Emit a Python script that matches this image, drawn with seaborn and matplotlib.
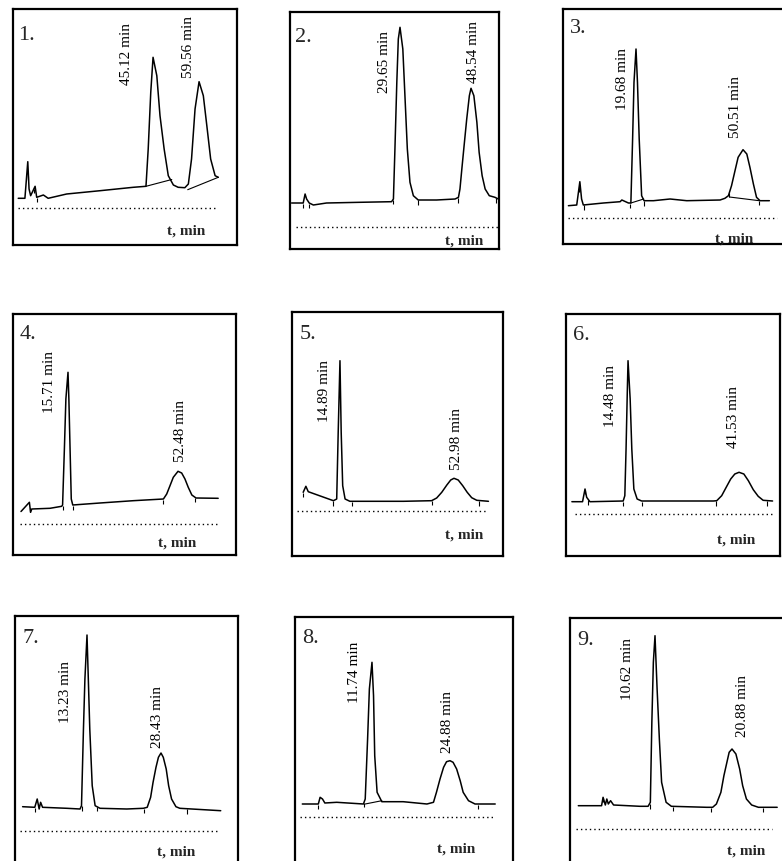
import numpy as np
import pandas as pd
import matplotlib
matplotlib.use("Agg")
import matplotlib.pyplot as plt
import seaborn as sns

# ------------------------------------------------------------------ data
panel_labels = ["1.", "2.", "3.", "4.", "5.", "6.", "7.", "8.", "9."]
axis_label = "t, min"

p1_time = [2.8, 4.9, 5.8, 6.2, 6.7, 8.1, 8.6, 10.7, 12.2, 18.0, 28.5, 38.9, 42.9, 43.6, 44.4,
           45.12, 46.3, 47.3, 48.6, 49.9, 51.5, 53.0, 55.1, 56.2, 57.2, 58.3, 59.56, 60.9,
           62.0, 63.2, 64.6, 65.6]
p1_signal = [9.7, 9.7, 46.3, 19.0, 12.3, 21.7, 10.7, 13.0, 9.7, 14.0, 17.3, 20.7, 21.7, 59.0,
             115.7, 150.7, 132.3, 92.3, 59.0, 32.3, 23.0, 20.7, 20.3, 24.0, 49.0, 99.0, 126.3,
             112.3, 82.3, 49.0, 32.3, 30.7]
p1_peaks = [45.12, 59.56]
p1_marks = [6.0, 7.8, 8.8]
p1_baselines = [(42.9, 21.7, 51.0, 28.5), (56.0, 18.3, 65.6, 30.7)]

p2_time = [0.8, 3.9, 4.4, 4.8, 5.5, 6.6, 10.1, 19.0, 27.4, 27.9, 28.3, 28.8, 29.2, 29.65, 30.4,
           31.0, 31.6, 32.3, 33.2, 34.5, 39.4, 44.3, 45.2, 45.6, 46.1, 46.7, 47.4, 48.1, 48.54,
           49.3, 50.1, 50.7, 51.5, 52.3, 53.4, 54.9, 55.8]
p2_signal = [24, 24, 33, 28, 24, 22, 24, 24.7, 25.3, 28, 78, 144.7, 188, 199.7, 178, 128, 78,
             44.7, 31.3, 27, 27, 28, 29.7, 38, 58, 81.3, 108, 131.3, 138.7,
             131.3, 104.7, 74.7, 51.3, 38, 31.3, 29.7, 28]
p2_peaks = [29.65, 48.54]
p2_marks = [3.9, 5.5, 27.9, 34.4, 45.0, 55.2]
p2_baselines = []

p3_time = [0.2, 2.6, 3.5, 4.0, 4.5, 10.3, 15.1, 15.6, 17.5, 18.2, 18.7, 19.1, 19.68, 20.1, 20.6,
           21.3, 22.0, 24.7, 29.5, 34.3, 43.9, 45.3, 46.3, 47.2, 48.2, 49.1, 50.51, 51.6, 52.5,
           53.5, 54.4, 55.4, 58.1]
p3_signal = [12.3, 13, 36.3, 19, 13, 15, 16.3, 18, 15, 15, 79, 135.7, 169, 135.7, 79, 22.3,
             17.3, 17.3, 19, 17.3, 18, 19.7, 22.3, 32.3, 47.3, 60.7, 68.3, 64, 50.7,
             34, 20.7, 17.3, 17.3]
p3_peaks = [19.68, 50.51]
p3_marks = [3.3, 4.7, 17.9, 22.0, 46.6, 55.2]
p3_baselines = [(18.2, 15.0, 21.9, 19.0), (46.6, 21.0, 55.2, 17.3)]

p4_time = [0.0, 2.8, 3.2, 3.6, 9.7, 13.6, 13.9, 14.5, 15.0, 15.71, 16.0, 16.4, 16.8, 17.3,
           26.4, 37.5, 47.6, 48.7, 49.8, 50.9, 52.48, 53.7, 54.8, 55.9, 57.1, 58.5, 65.9]
p4_signal = [12.5, 21.7, 11.7, 15, 15.7, 17.7, 19, 75, 125, 151.7, 125, 75, 25, 19, 21, 23.3,
             25, 30, 38.3, 46.7, 52.7, 51, 45, 36.7, 29, 26, 25.7]
p4_peaks = [15.71, 52.48]
p4_marks = [3.0, 13.9, 17.3, 47.6, 58.2]
p4_baselines = []

p5_time = [2.6, 3.5, 4.3, 12.7, 13.8, 14.3, 14.89, 15.3, 15.8, 16.6, 18.2, 36.1, 45.5, 47.2,
           48.9, 50.6, 51.9, 52.98, 54.4, 55.9, 57.4, 58.9, 60.6, 64.5]
p5_signal = [18.7, 24.7, 19.3, 10.3, 12, 78.7, 150.3, 78.7, 25.3, 12, 9.7, 9.7, 10.3, 13,
             18.7, 26, 31, 32.7, 31, 25.3, 18.7, 13.3, 10.7, 9.7]
p5_peaks = [14.89, 52.98]
p5_marks = [2.6, 12.7, 18.8, 45.7, 61.4]
p5_baselines = []

p6_time = [0.8, 3.4, 4.0, 4.4, 5.2, 13.3, 13.7, 14.0, 14.3, 14.48, 15.0, 15.4, 15.9, 16.7,
           17.8, 25.5, 35.3, 36.1, 37.3, 38.4, 39.5, 40.5, 41.53, 42.7, 43.8, 45.0, 46.2, 47.4,
           49.7]
p6_signal = [12.3, 12.3, 25, 16.7, 12.3, 13, 18.3, 65, 121.7, 153.3, 115, 65, 25, 15, 13, 13,
             13, 13.3, 18.3, 26.7, 35, 40, 41.7, 40, 33.3, 24.3, 17.7, 13.7, 13]
p6_peaks = [14.48, 41.53]
p6_marks = [4.0, 4.8, 13.3, 17.8, 35.9, 48.3]
p6_baselines = []

p7_time = [0.0, 2.5, 3.0, 3.4, 3.7, 4.1, 9.1, 11.8, 12.1, 12.5, 12.8, 13.23, 13.5, 13.8, 14.3,
           14.9, 15.9, 21.4, 24.8, 25.6, 26.3, 26.8, 27.4, 27.9, 28.43, 28.9, 29.5, 30.0, 30.6,
           31.5, 32.3, 40.7]
p7_signal = [24.3, 23.7, 32, 22, 28.7, 23.7, 22.7, 22, 25.3, 102, 152, 196, 152, 102, 45.3,
             25.3, 22.7, 22, 22.7, 23.7, 33.7, 48.7, 63.7, 73.7, 78, 73.7, 62, 45.3, 32,
             24.3, 22.7, 20.3]
p7_peaks = [13.23, 28.43]
p7_marks = [2.5, 12.1, 15.2, 24.9, 33.8]
p7_baselines = []

p8_time = [0.0, 2.7, 3.0, 3.4, 3.8, 5.8, 10.3, 10.6, 11.0, 11.3, 11.74, 12.0, 12.2, 12.6, 13.4,
           17.0, 21.0, 22.1, 22.6, 23.2, 23.8, 24.3, 24.88, 25.4, 26.0, 26.6, 27.1, 28.0, 29.1,
           32.5]
p8_signal = [13, 13, 19.7, 18, 14, 14.7, 13, 18, 78, 128, 154.7, 121.3, 61.3, 24.7, 15.3, 15.3,
             13, 14.7, 24.7, 38, 49.7, 55.3, 56.3, 54.7, 48, 36.3, 24.7, 16.3, 13, 13]
p8_peaks = [11.74, 24.88]
p8_marks = [2.7, 10.4, 29.6]
p8_baselines = [(10.6, 13.0, 13.4, 16.3)]

p9_time = [0.4, 3.5, 3.7, 4.0, 4.2, 4.4, 4.7, 5.1, 8.6, 9.7, 10.0, 10.2, 10.4, 10.62, 10.9,
           11.2, 11.5, 12.1, 12.8, 17.5, 18.3, 18.8, 19.4, 19.8, 20.2, 20.5, 20.88, 21.4, 21.9,
           22.3, 22.8, 23.5, 24.4, 26.9]
p9_signal = [23.3, 23.3, 31.7, 24, 30, 25, 28.3, 24, 22.7, 22.7, 26.7, 106.7, 166.7, 193.3, 140,
             90, 46.7, 26.7, 22.7, 21.7, 21.7, 25, 36.7, 53.3, 66.7, 76.7, 80, 75, 60,
             43.3, 30, 24, 21.7, 21.7]
p9_peaks = [10.62, 20.88]
p9_marks = [3.7, 9.9, 13.0, 18.1, 25.0]
p9_baselines = []

# ---------------------------------------------------------------- layout
W, H = 782, 862
# box (left, top, right, bottom) in px, time calibration (t0 px, px/min),
# dotted reference line (x1, x2, y) px, label offsets px, "t, min" (x, baseline)
layout = [
    dict(box=(13, 10, 237, 246), cal=(9.3, 3.186), dots=(18, 218, 209),
         offs=[(-27, -27), (-11, 5)], num=(18, 40), tlab=(167, 235)),
    dict(box=(290, 13, 499, 250), cal=(288.55, 3.759), dots=(296, 500, 228),
         offs=[(-16, -65), (2, 6)], num=(295, 42), tlab=(445, 245)),
    dict(box=(563, 10, 786, 245), cal=(567.7, 3.471), dots=(568, 777, 219),
         offs=[(-14, -60), (-8, 13)], num=(570, 33), tlab=(715, 243)),
    dict(box=(13, 315, 236, 556), cal=(21.0, 2.992), dots=(20, 220, 525),
         offs=[(-19, -40), (2, 10)], num=(20, 339), tlab=(158, 547)),
    dict(box=(292, 313, 503, 557), cal=(295.4, 2.993), dots=(297, 488, 512),
         offs=[(-15, -60), (3, 9)], num=(300, 339), tlab=(445, 539)),
    dict(box=(566, 315, 780, 557), cal=(568.6, 4.104), dots=(575, 773, 515),
         offs=[(-18, -65), (-6, 25)], num=(573, 340), tlab=(717, 544)),
    dict(box=(15, 617, 238, 872), cal=(22.6, 4.868), dots=(20, 218, 832),
         offs=[(-22, -87), (-3, 6)], num=(22, 643), tlab=(157, 856)),
    dict(box=(295, 618, 513, 872), cal=(302.3, 5.936), dots=(300, 494, 818),
         offs=[(-17, -40), (-2, 9)], num=(302, 643), tlab=(437, 853)),
    dict(box=(570, 619, 786, 872), cal=(575.3, 7.505), dots=(576, 772, 830),
         offs=[(-28, -63), (10, 13)], num=(577, 645), tlab=(727, 855)),
]

traces = [
    (p1_time, p1_signal, p1_peaks, p1_marks, p1_baselines),
    (p2_time, p2_signal, p2_peaks, p2_marks, p2_baselines),
    (p3_time, p3_signal, p3_peaks, p3_marks, p3_baselines),
    (p4_time, p4_signal, p4_peaks, p4_marks, p4_baselines),
    (p5_time, p5_signal, p5_peaks, p5_marks, p5_baselines),
    (p6_time, p6_signal, p6_peaks, p6_marks, p6_baselines),
    (p7_time, p7_signal, p7_peaks, p7_marks, p7_baselines),
    (p8_time, p8_signal, p8_peaks, p8_marks, p8_baselines),
    (p9_time, p9_signal, p9_peaks, p9_marks, p9_baselines),
]

# ----------------------------------------------------------------- style
sns.set_theme(style="white")
plt.rcParams["font.family"] = ["Liberation Serif", "DejaVu Serif"]

fig = plt.figure(figsize=(W / 100, H / 100), dpi=100)
fig.patch.set_facecolor("white")

for i, ((t, s, peaks, marks, bases), lay) in enumerate(zip(traces, layout)):
    l, tp, r, b = lay["box"]
    ax = fig.add_axes([l / W, 1 - b / H, (r - l) / W, (b - tp) / H])
    t0, sc = lay["cal"]
    x1, x2, yd = lay["dots"]
    ax.set_xlim((l - t0) / sc, (r - t0) / sc)
    ax.set_ylim(yd - b, yd - tp)

    df = pd.DataFrame({"time": t, "signal": s})
    sns.lineplot(data=df, x="time", y="signal", ax=ax, color="black",
                 linewidth=1.1, estimator=None, sort=False)

    for (ta, sa, tb, sb) in bases:
        ax.plot([ta, tb], [sa, sb], color="black", linewidth=0.8)

    base_at = np.interp(marks, t, s)
    ax.vlines(marks, base_at - 5, base_at - 0.5, color="black", linewidth=0.8)

    ax.axhline(0, xmin=(x1 - l) / (r - l), xmax=(x2 - l) / (r - l), color="black",
               linewidth=1.0, linestyle=(0, (1, 2.2)))

    for rt, (dx, dy) in zip(peaks, lay["offs"]):
        apex = np.interp(rt, t, s)
        ax.annotate(f"{rt:.2f} min", xy=(rt, apex), xytext=(dx, dy),
                    textcoords="offset pixels", rotation=90, ha="center", va="bottom",
                    fontsize=11, color="black")

    ax.set_xticks([])
    ax.set_yticks([])
    ax.set_xlabel("")
    ax.set_ylabel("")
    for sp in ax.spines.values():
        sp.set_visible(True)
        sp.set_color("black")
        sp.set_linewidth(1.6)

    nx, ny = lay["num"]
    fig.text(nx / W, 1 - ny / H, panel_labels[i], fontsize=16, ha="left", va="baseline")
    lx, ly = lay["tlab"]
    fig.text(lx / W, 1 - ly / H, axis_label, fontsize=11, fontweight="bold",
             ha="left", va="baseline")

fig.savefig("out.png", dpi=100, facecolor="white")
